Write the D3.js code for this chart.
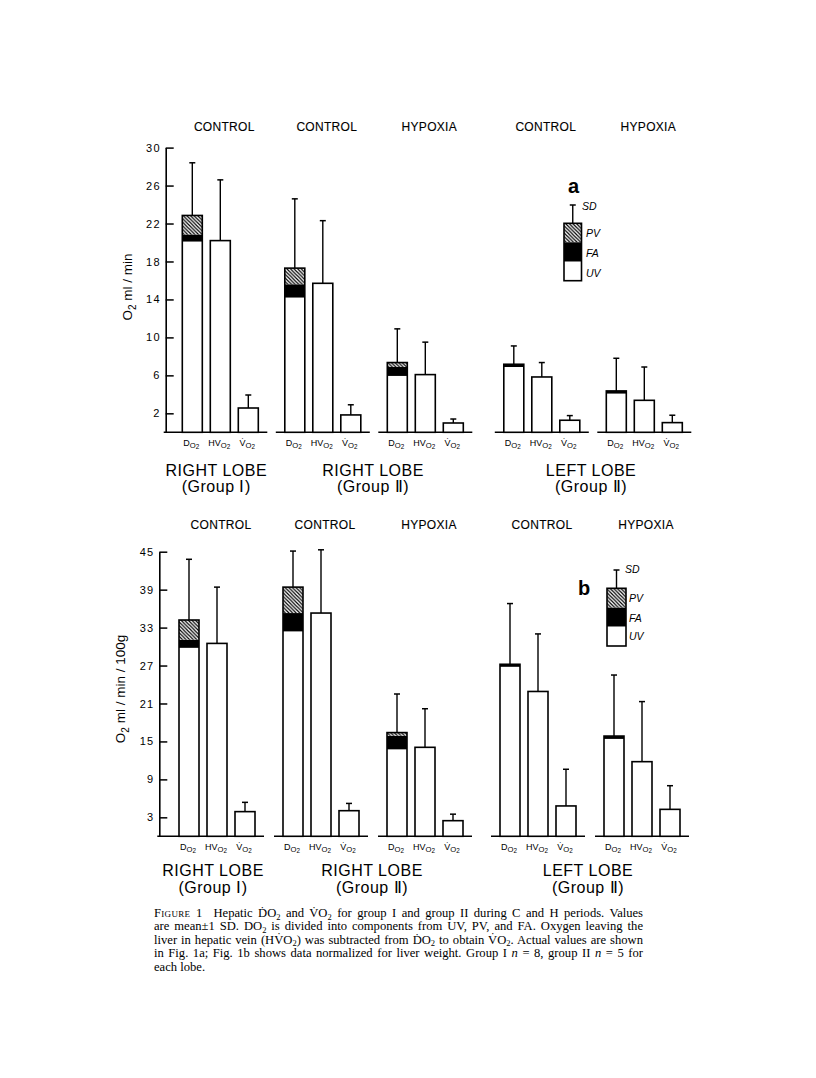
<!DOCTYPE html>
<html><head><meta charset="utf-8">
<script src="https://cdn.jsdelivr.net/npm/d3@7"></script>
<style>body{margin:0;background:#fff}svg{display:block}</style>
</head><body>
<svg id="c" width="816" height="1078"></svg>
<script>
// ---------- DATA ----------
const conditions = ["CONTROL", "CONTROL", "HYPOXIA", "CONTROL", "HYPOXIA"];
const barLabels = ["DO2", "HVO2", "VO2"];
const lobeTitles = ["RIGHT LOBE", "RIGHT LOBE", "LEFT LOBE"];
const lobeGroupsText = ["(Group Ⅰ)", "(Group Ⅱ)", "(Group Ⅱ)"];
const lobeMembers = [[0], [1, 2], [3, 4]];
const legendKeys = ["PV", "FA", "UV"];

// Panel a : O2 ml/min
const aTicks = [2, 6, 10, 14, 18, 22, 26, 30];
const aDO2UV = [20.1, 14.2, 5.94, 6.88, 4.08];
const aDO2FA = [0.75, 1.4, 0.94, 0.29, 0.28];
const aDO2PV = [2.0, 1.7, 0.47, 0, 0];
const aDO2SD = [5.55, 7.3, 3.55, 1.93, 3.44];
const aHVO2 = [20.2, 15.7, 6.08, 5.83, 3.37];
const aHVO2SD = [6.4, 6.6, 3.42, 1.52, 3.51];
const aVO2 = [2.56, 1.83, 0.98, 1.27, 1.02];
const aVO2SD = [1.37, 1.07, 0.42, 0.49, 0.78];

// Panel b : O2 ml/min/100g
const bTicks = [3, 9, 15, 21, 27, 33, 39, 45];
const bDO2UV = [29.8, 32.4, 13.75, 26.8, 15.4];
const bDO2FA = [1.3, 2.9, 2.15, 0.4, 0.45];
const bDO2PV = [3.1, 4.1, 0.5, 0, 0];
const bDO2SD = [9.6, 5.7, 6.1, 9.6, 9.65];
const bHVO2 = [30.5, 35.3, 14.07, 22.9, 11.8];
const bHVO2SD = [8.9, 10.0, 6.1, 9.1, 9.5];
const bVO2 = [3.9, 4.05, 2.47, 4.8, 4.26];
const bVO2SD = [1.47, 1.15, 1.03, 5.8, 3.74];

const captionLines = [
  [["sc", "Figure 1"], ["n", "  Hepatic Ḋ"], ["n", "O"], ["s", "2"], ["n", " and V̇O"], ["s", "2"], ["n", " for group I and group II during C and H periods. Values"]],
  [["n", "are mean±1 SD. DO"], ["s", "2"], ["n", " is divided into components from UV, PV, and FA. Oxygen leaving the"]],
  [["n", "liver in hepatic vein (HV̇O"], ["s", "2"], ["n", ") was subtracted from ḊO"], ["s", "2"], ["n", " to obtain V̇O"], ["s", "2"], ["n", ". Actual values are shown"]],
  [["n", "in Fig. 1a; Fig. 1b shows data normalized for liver weight. Group I "], ["i", "n"], ["n", " = 8, group II "], ["i", "n"], ["n", " = 5 for"]],
  [["n", "each lobe."]]
];

// ---------- LAYOUT ----------
const svg = d3.select("#c");
const SANS = "'Liberation Sans', Arial, Helvetica, sans-serif";
const SERIF = "'Liberation Serif', 'Times New Roman', serif";

const defs = svg.append("defs");
const pat = defs.append("pattern").attr("id", "hatch")
  .attr("patternUnits", "userSpaceOnUse").attr("width", 3.6).attr("height", 3.6);
pat.append("rect").attr("width", 3.6).attr("height", 3.6).attr("fill", "#fff");
pat.append("path").attr("d", "M-1,-1L4.6,4.6M-1,2.6L1,4.6M2.6,-1L4.6,1")
  .attr("stroke", "#000").attr("stroke-width", 1.2);

const panels = [
  { ticks: aTicks, max: 30, y0: 432.3, yMax: 147.6, axisX: 165.7,
    UV: aDO2UV, FA: aDO2FA, PV: aDO2PV, DSD: aDO2SD, HV: aHVO2, HSD: aHVO2SD, V: aVO2, VSD: aVO2SD,
    bar0: 182.3, pitch: 102.5, lobeGap: 14, headerY: 130.5, xlabY: 446, lobeY1: 475.5, lobeY2: 492,
    ylab: ["ml / min"], ylabX: 132, ylabY: 287,
    letter: "a", letterX: 568, letterY: 193, letterSize: 20,
    leg: { x: 564, w: 17.5, top: 223.3, seg: [19, 19.4, 19], sdTop: 205, labX: 586, sdLabX: 582, labY: [237, 257, 277], sdLabY: 210 } },
  { ticks: bTicks, max: 45, y0: 836.3, yMax: 551.7, axisX: 159.3,
    UV: bDO2UV, FA: bDO2FA, PV: bDO2PV, DSD: bDO2SD, HV: bHVO2, HSD: bHVO2SD, V: bVO2, VSD: bVO2SD,
    bar0: 179, pitch: 104, lobeGap: 9, headerY: 528.5, xlabY: 850, lobeY1: 876, lobeY2: 893,
    ylab: ["ml / min / 100g"], ylabX: 125, ylabY: 689,
    letter: "b", letterX: 578, letterY: 595, letterSize: 20,
    leg: { x: 607, w: 19, top: 588.3, seg: [19.4, 19, 19.3], sdTop: 570, labX: 629, sdLabX: 625, labY: [602, 622, 640], sdLabY: 573 } }
];

function subLabel(g, x, y, main, size) {
  const t = g.append("text").attr("x", x).attr("y", y).attr("text-anchor", "middle")
    .attr("font-family", SANS).attr("font-size", size).attr("fill", "#000");
  t.append("tspan").text(main);
  t.append("tspan").attr("font-size", size * 0.85).attr("dy", 1.8).text("O");
  t.append("tspan").attr("font-size", size * 0.7).attr("dy", 1.2).text("2");
  return t;
}

panels.forEach(p => {
  const g = svg.append("g");
  const y = d3.scaleLinear().domain([0, p.max]).range([p.y0, p.yMax]);
  const xg = d3.scaleLinear().domain([0, 1]).range([p.bar0, p.bar0 + p.pitch]);
  const groupX = i => xg(i) + (i >= 3 ? p.lobeGap : 0);
  const xb = d3.scaleBand().domain(barLabels).range([0, 76]).paddingInner(8 / 28).paddingOuter(0);
  const bw = xb.bandwidth();

  // axis
  const axis = d3.axisLeft(y).tickValues(p.ticks).tickSizeInner(-8).tickSizeOuter(0).tickPadding(6);
  const ag = g.append("g").attr("transform", `translate(${p.axisX},0)`).call(axis);
  ag.select(".domain").attr("stroke", "#000").attr("stroke-width", 1.6);
  ag.selectAll(".tick line").attr("stroke", "#000").attr("stroke-width", 1.5);
  ag.selectAll(".tick text").attr("font-family", SANS).attr("font-size", 11)
    .attr("letter-spacing", 1.2).attr("fill", "#000").attr("dx", 1);

  // y label
  const yl = g.append("text").attr("transform", `translate(${p.ylabX},${p.ylabY}) rotate(-90)`)
    .attr("text-anchor", "middle").attr("font-family", SANS).attr("font-size", 13.5).attr("fill", "#000");
  yl.append("tspan").text("O");
  yl.append("tspan").attr("font-size", 10).attr("dy", 4).text("2");
  yl.append("tspan").attr("dy", -4).text(" " + p.ylab[0]);

  conditions.forEach((cond, i) => {
    const gx = groupX(i);
    const xs = i === 0 ? p.axisX - 2 : gx - 9;
    const xe = gx + 76 + 9;
    g.append("line").attr("x1", xs).attr("x2", xe).attr("y1", y(0)).attr("y2", y(0))
      .attr("stroke", "#000").attr("stroke-width", 1.6);
    g.append("text").attr("x", gx + 38 + 4).attr("y", p.headerY).attr("text-anchor", "middle")
      .attr("font-family", SANS).attr("font-size", 12).attr("letter-spacing", 0.3).attr("fill", "#000")
      .attr("stroke", "#000").attr("stroke-width", 0.12).text(cond);

    const bx = gx + xb("DO2");
    const segs = [
      { v0: 0, v1: p.UV[i], fill: "#fff" },
      { v0: p.UV[i], v1: p.UV[i] + p.FA[i], fill: "#000" },
      { v0: p.UV[i] + p.FA[i], v1: p.UV[i] + p.FA[i] + p.PV[i], fill: "url(#hatch)" }
    ];
    segs.forEach(s => {
      if (s.v1 > s.v0) g.append("rect").attr("x", bx).attr("width", bw)
        .attr("y", y(s.v1)).attr("height", y(s.v0) - y(s.v1)).attr("fill", s.fill);
    });
    const total = p.UV[i] + p.FA[i] + p.PV[i];
    const bars = [
      { key: "DO2", v: total, sd: p.DSD[i] },
      { key: "HVO2", v: p.HV[i], sd: p.HSD[i] },
      { key: "VO2", v: p.V[i], sd: p.VSD[i] }
    ];
    bars.forEach(b => {
      const x = gx + xb(b.key);
      const cx = x + bw / 2;
      g.append("line").attr("x1", cx).attr("x2", cx).attr("y1", y(b.v)).attr("y2", y(b.v + b.sd))
        .attr("stroke", "#000").attr("stroke-width", 1.4);
      g.append("line").attr("x1", cx - 3).attr("x2", cx + 3).attr("y1", y(b.v + b.sd)).attr("y2", y(b.v + b.sd))
        .attr("stroke", "#000").attr("stroke-width", 1.5);
      g.append("rect").attr("x", x).attr("width", bw).attr("y", y(b.v)).attr("height", y(0) - y(b.v))
        .attr("fill", b.key === "DO2" ? "none" : "#fff").attr("stroke", "#000").attr("stroke-width", 1.6);
    });
    subLabel(g, gx + xb("DO2") + bw / 2 - 1, p.xlabY, "D", 9);
    subLabel(g, gx + xb("HVO2") + bw / 2 - 1, p.xlabY, "HV", 9);
    subLabel(g, gx + xb("VO2") + bw / 2 - 1, p.xlabY, "V\u0307", 9);
  });

  const lobeDx = [-4, -1, -2];
  lobeMembers.forEach((m, k) => {
    const x0 = groupX(m[0]), x1 = groupX(m[m.length - 1]) + 76;
    const cx = (x0 + x1) / 2 + lobeDx[k];
    g.append("text").attr("x", cx).attr("y", p.lobeY1).attr("text-anchor", "middle")
      .attr("font-family", SANS).attr("font-size", 16).attr("letter-spacing", 0.5).attr("fill", "#000")
      .text(lobeTitles[k]);
    g.append("text").attr("x", cx).attr("y", p.lobeY2).attr("text-anchor", "middle")
      .attr("font-family", SANS).attr("font-size", 16).attr("letter-spacing", 0.5).attr("fill", "#000")
      .text(lobeGroupsText[k]);
  });

  g.append("text").attr("x", p.letterX).attr("y", p.letterY).attr("font-family", SANS)
    .attr("font-weight", "bold").attr("font-size", p.letterSize).attr("fill", "#000").text(p.letter);

  const L = p.leg;
  let yy = L.top;
  const fills = { PV: "url(#hatch)", FA: "#000", UV: "#fff" };
  legendKeys.forEach((k, j) => {
    g.append("rect").attr("x", L.x).attr("y", yy).attr("width", L.w).attr("height", L.seg[j]).attr("fill", fills[k]);
    g.append("text").attr("x", L.labX).attr("y", L.labY[j]).attr("font-family", SANS)
      .attr("font-style", "italic").attr("font-size", 10.5).attr("fill", "#000").text(k);
    yy += L.seg[j];
  });
  g.append("rect").attr("x", L.x).attr("y", L.top).attr("width", L.w).attr("height", yy - L.top)
    .attr("fill", "none").attr("stroke", "#000").attr("stroke-width", 1.6);
  const lcx = L.x + L.w / 2;
  g.append("line").attr("x1", lcx).attr("x2", lcx).attr("y1", L.top).attr("y2", L.sdTop)
    .attr("stroke", "#000").attr("stroke-width", 1.4);
  g.append("line").attr("x1", lcx - 3).attr("x2", lcx + 3).attr("y1", L.sdTop).attr("y2", L.sdTop)
    .attr("stroke", "#000").attr("stroke-width", 1.5);
  g.append("text").attr("x", L.sdLabX).attr("y", L.sdLabY).attr("font-family", SANS)
    .attr("font-style", "italic").attr("font-size", 10.5).attr("fill", "#000").text("SD");
});

// ---------- CAPTION ----------
const capX = 154, capR = 643, capY0 = 917, capLH = 13.4;
captionLines.forEach((line, li) => {
  const t = svg.append("text").attr("x", capX).attr("y", capY0 + li * capLH)
    .attr("font-family", SERIF).attr("font-size", 12.6).attr("fill", "#000").attr("xml:space", "preserve");
  let shifted = false;
  line.forEach(([kind, txt]) => {
    const ts = t.append("tspan").text(txt);
    if (kind === "s") { ts.attr("font-size", 8.5).attr("dy", 2.5); shifted = true; }
    else if (shifted) { ts.attr("dy", -2.5); shifted = false; }
    if (kind === "sc") ts.attr("font-variant", "small-caps").attr("letter-spacing", 0.3);
    if (kind === "i") ts.attr("font-style", "italic");
  });
  if (li < captionLines.length - 1) {
    const len = t.node().getComputedTextLength();
    const full = line.map(d => d[1]).join("");
    const spaces = (full.match(/ /g) || []).length;
    if (spaces > 0) t.attr("word-spacing", (capR - capX - len) / spaces);
  }
});
</script>
</body></html>
